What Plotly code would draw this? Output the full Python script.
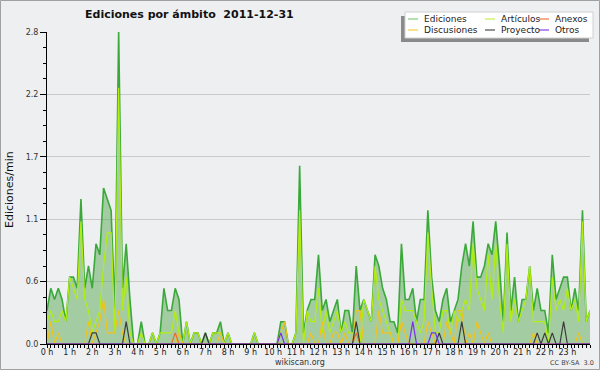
import plotly.graph_objects as go

# ---- data: edits per minute, 10-minute steps from 0 h to 24 h ----
hours = [i / 6 for i in range(145)]
hour_ticks = list(range(24))
hour_labels = [f"{h} h" for h in hour_ticks]
y_ticks = [0, 0.56, 1.12, 1.68, 2.24, 2.8]
y_labels = ["0.0", "0.6", "1.1", "1.7", "2.2", "2.8"]

ediciones = [
    0.3, 0.5, 0.4, 0.5, 0.4, 0.2, 0.6, 0.6, 0.5, 1.3, 0.5, 0.7,
    0.5, 0.9, 0.8, 1.4, 1.3, 1.2, 0.3, 2.8, 0.5, 0.9, 0.4, 0,
    0, 0.2, 0, 0, 0.1, 0, 0.1, 0.5, 0.3, 0.3, 0.5, 0.4,
    0, 0.2, 0, 0.1, 0.1, 0, 0.1, 0, 0.1, 0.1, 0.2, 0,
    0.1, 0, 0, 0, 0, 0, 0, 0.1, 0, 0, 0, 0,
    0, 0, 0.2, 0.2, 0, 0, 0.1, 1.6, 0.1, 0.3, 0.4, 0.4,
    0.8, 0.3, 0.4, 0.2, 0.3, 0.4, 0.1, 0.3, 0.3, 0.1, 0.7, 0.3,
    0.4, 0.3, 0.2, 0.8, 0.7, 0.5, 0.4, 0.2, 0.2, 0.1, 0.9, 0.4,
    0.4, 0.5, 0.2, 0.4, 0.4, 1.2, 0.6, 0.3, 0.2, 0.4, 0.5, 0.2,
    0.3, 0.4, 0.7, 0.9, 0.7, 1.1, 0.6, 0.6, 0.7, 0.9, 0.8, 1.1,
    0.7, 0.2, 1.0, 0.3, 0.6, 0.2, 0.4, 0.4, 0.7, 0.3, 0.5, 0.3,
    0.3, 0.1, 0.8, 0.4, 0.5, 0.6, 0.6, 0.3, 0.5, 0.3, 1.2, 0.2,
    0.3,
]
articulos = [
    0.2, 0.3, 0.2, 0.2, 0.3, 0.2, 0.6, 0.5, 0.4, 1.1, 0.4, 0.3,
    0.1, 0.2, 0.3, 0.7, 1.0, 1.0, 0.1, 2.3, 0.3, 0.6, 0.1, 0,
    0, 0.1, 0, 0, 0.1, 0, 0.1, 0.1, 0.1, 0.1, 0.3, 0.1,
    0, 0.2, 0, 0.1, 0.1, 0, 0, 0, 0.1, 0.1, 0.1, 0,
    0.1, 0, 0, 0, 0, 0, 0, 0.1, 0, 0, 0, 0,
    0, 0, 0, 0, 0, 0, 0.1, 1.2, 0, 0.3, 0.2, 0.2,
    0.5, 0.1, 0.3, 0.1, 0.2, 0.3, 0.1, 0.2, 0.1, 0.1, 0.1, 0,
    0.4, 0.3, 0.2, 0.7, 0.4, 0.3, 0.2, 0.1, 0, 0, 0.4, 0.3,
    0.3, 0.3, 0.2, 0.1, 0.2, 1.0, 0.5, 0.1, 0.1, 0.3, 0.3, 0.1,
    0.3, 0.2, 0.3, 0.4, 0.3, 0.9, 0.5, 0.4, 0.3, 0.8, 0.4, 0.9,
    0.4, 0.1, 0.9, 0.2, 0.4, 0.2, 0.3, 0.4, 0.7, 0.2, 0.2, 0.2,
    0.2, 0, 0.6, 0.3, 0.4, 0.3, 0.5, 0.3, 0.4, 0.2, 1.1, 0.2,
    0.3,
]
discusiones = [
    0, 0.2, 0, 0.1, 0, 0, 0, 0, 0, 0, 0, 0.2,
    0, 0.1, 0.2, 0.4, 0.1, 0.1, 0.1, 0.3, 0.1, 0, 0, 0,
    0, 0, 0, 0, 0, 0, 0, 0, 0, 0, 0, 0.1,
    0, 0, 0, 0, 0, 0, 0, 0, 0, 0, 0.1, 0,
    0, 0, 0, 0, 0, 0, 0, 0, 0, 0, 0, 0,
    0, 0, 0.1, 0.2, 0, 0, 0, 0, 0, 0, 0.1, 0,
    0, 0.2, 0, 0, 0.1, 0.1, 0, 0.1, 0, 0, 0.3, 0.3,
    0, 0, 0, 0, 0.3, 0.1, 0.1, 0.1, 0, 0, 0.2, 0.1,
    0, 0, 0, 0, 0, 0.2, 0.1, 0, 0, 0, 0.2, 0.1,
    0, 0.3, 0.3, 0, 0.1, 0, 0.2, 0.1, 0, 0.1, 0, 0,
    0, 0, 0, 0, 0, 0, 0, 0, 0, 0.1, 0, 0,
    0, 0, 0, 0, 0, 0, 0, 0, 0, 0.1, 0, 0,
    0,
]
proyecto = [
    0, 0, 0, 0, 0, 0, 0, 0, 0, 0, 0, 0,
    0.1, 0.1, 0, 0, 0, 0, 0, 0, 0, 0.2, 0, 0,
    0, 0, 0, 0, 0, 0, 0, 0, 0, 0, 0, 0,
    0, 0, 0, 0, 0, 0, 0.1, 0, 0, 0, 0, 0,
    0, 0, 0, 0, 0, 0, 0, 0, 0, 0, 0, 0,
    0, 0, 0, 0, 0, 0, 0, 0, 0, 0, 0, 0,
    0, 0, 0, 0, 0, 0, 0, 0, 0, 0, 0.2, 0,
    0, 0, 0, 0, 0, 0, 0, 0, 0, 0, 0, 0,
    0, 0, 0, 0, 0, 0, 0, 0, 0.1, 0, 0, 0,
    0, 0, 0.2, 0, 0, 0, 0, 0, 0, 0, 0, 0,
    0, 0, 0, 0, 0, 0, 0, 0, 0, 0, 0.1, 0,
    0.1, 0, 0.1, 0, 0, 0.2, 0, 0, 0, 0, 0, 0,
    0,
]
anexos = [
    0, 0, 0, 0, 0, 0, 0, 0, 0, 0, 0, 0,
    0, 0, 0, 0, 0, 0, 0, 0, 0, 0, 0, 0,
    0, 0, 0, 0, 0, 0, 0, 0, 0, 0, 0.1, 0,
    0, 0, 0, 0, 0, 0, 0, 0, 0, 0, 0, 0,
    0, 0, 0, 0, 0, 0, 0, 0, 0, 0, 0, 0,
    0, 0, 0, 0, 0, 0, 0, 0, 0, 0, 0, 0,
    0, 0, 0, 0, 0, 0, 0, 0, 0, 0, 0.1, 0,
    0, 0, 0, 0, 0, 0, 0, 0, 0, 0, 0, 0,
    0, 0, 0, 0, 0, 0, 0, 0, 0, 0, 0, 0,
    0, 0, 0, 0, 0, 0, 0, 0, 0, 0, 0, 0,
    0, 0, 0, 0, 0, 0, 0, 0, 0, 0, 0, 0,
    0, 0, 0, 0, 0, 0, 0, 0, 0, 0, 0, 0,
    0,
]
otros = [
    0, 0, 0, 0, 0, 0, 0, 0, 0, 0, 0, 0,
    0, 0, 0, 0, 0, 0, 0, 0, 0, 0, 0, 0,
    0, 0, 0, 0, 0, 0, 0, 0, 0, 0, 0, 0,
    0, 0, 0, 0, 0, 0, 0, 0, 0, 0, 0, 0,
    0, 0, 0, 0, 0, 0, 0, 0, 0, 0, 0, 0,
    0, 0, 0.1, 0, 0, 0, 0, 0, 0, 0, 0, 0,
    0, 0, 0, 0, 0, 0, 0, 0, 0, 0, 0, 0,
    0, 0, 0, 0, 0, 0, 0, 0, 0, 0, 0, 0,
    0, 0.2, 0, 0, 0, 0, 0.1, 0.1, 0, 0, 0, 0,
    0, 0, 0, 0, 0, 0, 0, 0, 0, 0, 0, 0,
    0, 0, 0, 0, 0, 0, 0, 0, 0, 0, 0, 0,
    0, 0, 0, 0, 0, 0, 0, 0, 0, 0, 0, 0,
    0,
]

line_colors = {
    "Ediciones": "#3aa93a",
    "Artículos": "#b2ee10",
    "Anexos": "#f06a28",
    "Discusiones": "#f2c21c",
    "Proyecto": "#3c3c3c",
    "Otros": "#7a2ff0",
}
legend_colors = {
    "Ediciones": "#8cd08c",
    "Artículos": "#cdf05a",
    "Anexos": "#f08050",
    "Discusiones": "#f7d24e",
    "Proyecto": "#5a5a5a",
    "Otros": "#9450e6",
}

W, H = 600, 370
L, R, T, B = 47, 10, 32, 26
PW, PH = W - L - R, H - T - B
FONT = "DejaVu Sans"
BG = "#eeeff1"


def px(x):
    return (x - L) / PW


def py(y):
    return (H - B - y) / PH


fig = go.Figure()
fig.add_trace(go.Scatter(
    x=hours, y=ediciones, mode="lines", name="Ediciones", fill="tozeroy",
    fillcolor="rgba(90,170,85,0.50)",
    line=dict(color=line_colors["Ediciones"], width=1.6), showlegend=False))
for name, vals in [("Artículos", articulos), ("Discusiones", discusiones),
                   ("Anexos", anexos), ("Proyecto", proyecto), ("Otros", otros)]:
    fig.add_trace(go.Scatter(
        x=hours, y=vals, mode="lines", name=name,
        line=dict(color=line_colors[name], width=1.2), showlegend=False))

fig.update_layout(
    width=W, height=H,
    margin=dict(l=L, r=R, t=T, b=B),
    paper_bgcolor=BG, plot_bgcolor=BG,
    font=dict(family=FONT, size=8, color="#222"),
    title=dict(text="<b>Ediciones por ámbito  2011-12-31</b>",
               font=dict(family=FONT, size=11, color="#111"),
               x=85 / W, xanchor="left", xref="container",
               y=1 - 14 / H, yanchor="middle", yref="container"),
    xaxis=dict(range=[0, 24], tickvals=hour_ticks, ticktext=hour_labels,
               tickangle=0, ticks="outside", ticklen=3, tickcolor="#000",
               ticklabelstandoff=-3,
               showline=True, linecolor="#000", linewidth=1, showgrid=False,
               zeroline=False, tickfont=dict(size=8, color="#222"),
               minor=dict(dtick=1 / 6, ticks="outside", ticklen=3,
                          tickcolor="#000", showgrid=False)),
    yaxis=dict(range=[0, 2.8], tickvals=y_ticks, ticktext=y_labels,
               ticks="outside", ticklen=6, tickcolor="#000",
               showline=True, linecolor="#000", linewidth=1,
               showgrid=True, gridcolor="#c9c9c9", gridwidth=1,
               zeroline=False, tickfont=dict(size=8, color="#333"),
               minor=dict(tickvals=[0.14 * k for k in range(21)], ticks="outside",
                          ticklen=3, tickcolor="#000", showgrid=False)),
    hovermode=False,
)

shapes = []
annotations = []

# outer frame
shapes.append(dict(type="rect", xref="paper", yref="paper",
                   x0=px(0.5), x1=px(599.5), y0=py(0.5), y1=py(369.5),
                   line=dict(color="#a0a0a0", width=1), layer="above"))

# legend box with shadow
shapes.append(dict(type="rect", xref="paper", yref="paper",
                   x0=px(401), x1=px(589), y0=py(16), y1=py(42),
                   fillcolor="#8a8a8a", line=dict(width=0)))
shapes.append(dict(type="rect", xref="paper", yref="paper",
                   x0=px(405), x1=px(593), y0=py(12), y1=py(38),
                   fillcolor="#ffffff", line=dict(color="#d0d0d0", width=1)))

legend_layout = [
    ("Ediciones", 408, 19), ("Artículos", 485, 19), ("Anexos", 539, 19),
    ("Discusiones", 408, 30), ("Proyecto", 485, 30), ("Otros", 539, 30),
]
for name, lx, ly in legend_layout:
    shapes.append(dict(type="line", xref="paper", yref="paper",
                       x0=px(lx), x1=px(lx + 10), y0=py(ly), y1=py(ly),
                       line=dict(color=legend_colors[name], width=1.3)))
    annotations.append(dict(text=name, xref="paper", yref="paper",
                            x=px(lx + 14), y=py(ly), xanchor="left", yanchor="middle",
                            showarrow=False,
                            font=dict(family=FONT, size=9, color="#222")))

# axis title
annotations.append(dict(text="Ediciones/min", xref="paper", yref="paper",
                        x=px(9), y=py(190), textangle=-90, showarrow=False,
                        xanchor="center", yanchor="middle",
                        font=dict(family=FONT, size=11, color="#111")))
# footer texts
annotations.append(dict(text="wikiscan.org", xref="paper", yref="paper",
                        x=px(300), y=py(362), showarrow=False,
                        xanchor="center", yanchor="middle",
                        font=dict(family=FONT, size=8, color="#333")))
annotations.append(dict(text="CC BY-SA  3.0", xref="paper", yref="paper",
                        x=px(596), y=py(363), showarrow=False,
                        xanchor="right", yanchor="middle",
                        font=dict(family=FONT, size=6.5, color="#444")))

fig.update_layout(shapes=shapes, annotations=annotations)
fig.write_html(
    "out.html",
    config={"displayModeBar": False, "staticPlot": True},
    post_script="document.body.style.margin='0';document.body.style.padding='0';"
                "document.body.style.overflow='hidden';",
)
